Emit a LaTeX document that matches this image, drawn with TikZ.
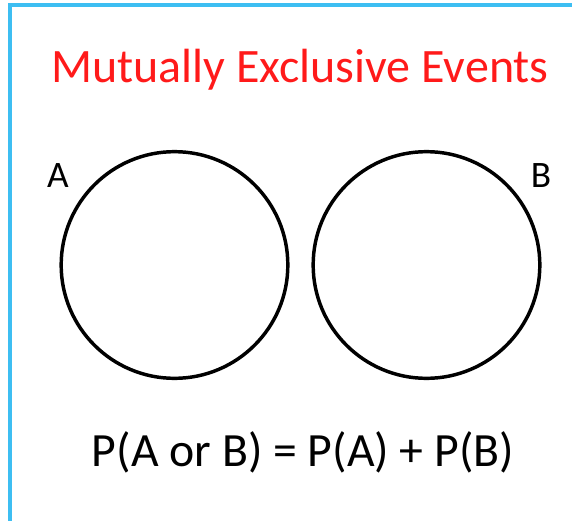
\documentclass[tikz,border=0pt]{standalone}
\usepackage{fontspec}
\setmainfont{Carlito}
\usetikzlibrary{positioning}
\definecolor{mexFrame}{HTML}{3DBEF2}
\definecolor{mexRed}{HTML}{FF1A1A}

\begin{document}
\begin{tikzpicture}[x=0.75pt,y=-0.75pt,
    evt/.style={draw=black,circle,line width=2.6pt,minimum size=170pt,inner sep=0pt},
    lbl/.style={font=\fontsize{28}{32}\selectfont,anchor=base,inner sep=0pt}]
  \useasboundingbox (0,0) rectangle (572,521);
  % frame, only left and top edges are in view
  \draw[mexFrame,line width=2.6pt] (10,530) -- (10,5) -- (580,5);
  \node[anchor=base,inner sep=0pt,text=mexRed,font=\fontsize{36}{40}\selectfont]
    (title) at (300,82) {Mutually Exclusive Events};
  % the two events
  \node[evt] (evA) at (174.5,265) {};
  \node[evt] (evB) at (426.5,265) {};
  \node[lbl] (labA) at (58,187) {A};
  \node[lbl] (labB) at (541,187) {B};
  \node[anchor=base,inner sep=0pt,font=\fontsize{35.8}{40}\selectfont]
    (rule) at (303,466) {P(A or B) = P(A) + P(B)};
\end{tikzpicture}
\end{document}
